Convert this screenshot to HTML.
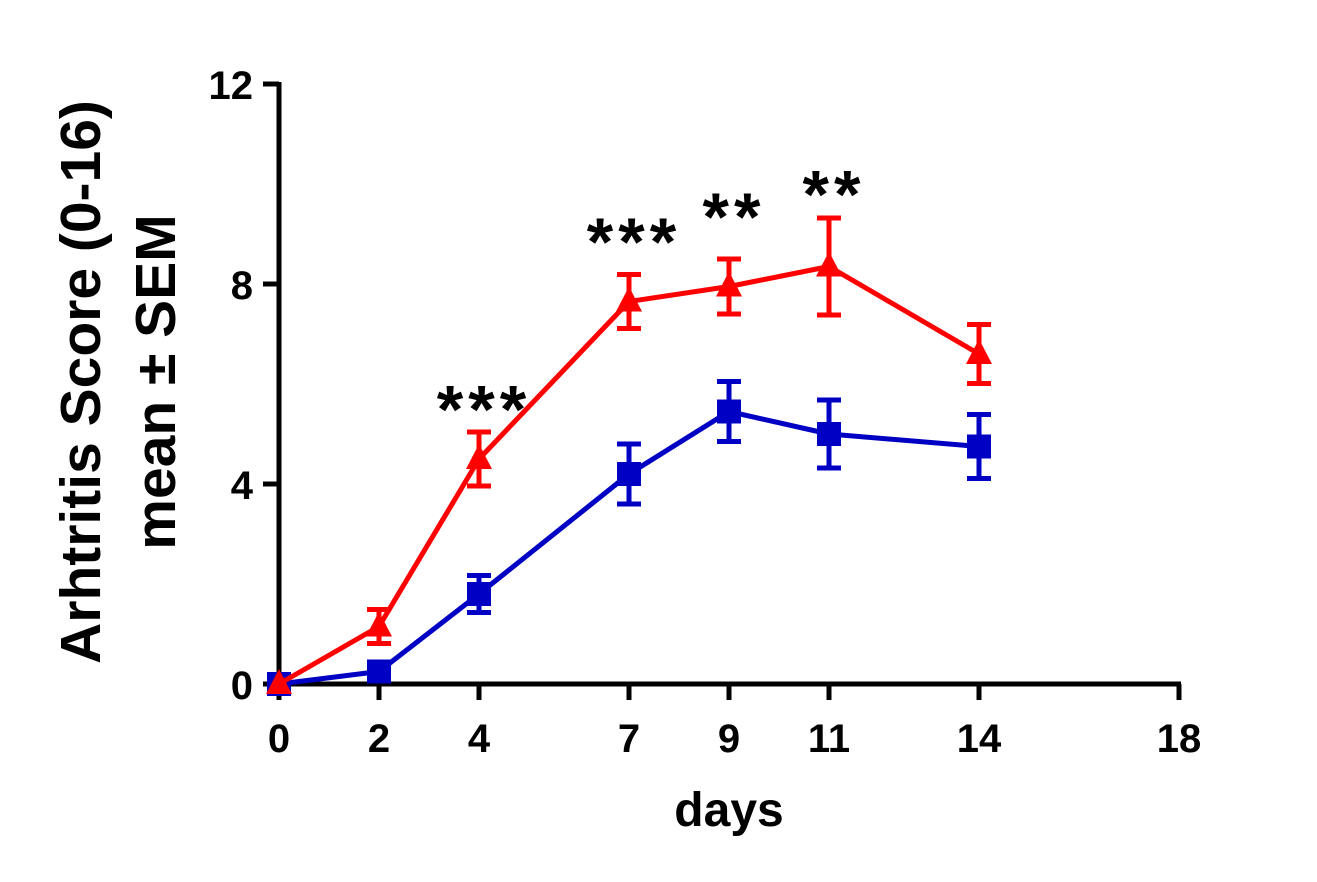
<!DOCTYPE html>
<html><head><meta charset="utf-8"><style>
html,body{margin:0;padding:0;background:#fff;}
svg{display:block;font-family:"Liberation Sans",sans-serif;font-weight:bold;}
</style></head><body>
<svg id="chart" width="1317" height="882" viewBox="0 0 1317 882">
<g id="axes"></g>
<g id="series"></g>
<text transform="translate(100,382) rotate(-90)" text-anchor="middle" font-size="57">Arhtritis Score (0-16)</text>
<text transform="translate(175,382) rotate(-90)" text-anchor="middle" font-size="57">mean ± SEM</text>
<text x="729" y="826" text-anchor="middle" font-size="48">days</text>
</svg>
<script>
const days = [0, 2, 4, 7, 9, 11, 14];
const redMean = [0, 1.15, 4.5, 7.65, 7.95, 8.35, 6.6];
const redSem = [0, 0.34, 0.54, 0.54, 0.55, 0.97, 0.59];
const blueMean = [0, 0.25, 1.8, 4.2, 5.45, 5.0, 4.75];
const blueSem = [0, 0.08, 0.37, 0.6, 0.6, 0.68, 0.64];
const xTicks = [0, 2, 4, 7, 9, 11, 14, 18];
const yTicks = [0, 4, 8, 12];
const sigDays = [4, 7, 9, 11];
const sigLabels = ["***", "***", "**", "**"];
const sigValues = [5.75, 9.1, 9.6, 10.05];

const NS = "http://www.w3.org/2000/svg";
const X = d => 279 + d * 50;
const Y = v => 684 - v * 50;
function mk(tag, attrs, parent) {
  const e = document.createElementNS(NS, tag);
  for (const k in attrs) e.setAttribute(k, attrs[k]);
  parent.appendChild(e);
  return e;
}
const axes = document.getElementById('axes');
const series = document.getElementById('series');
let el;
el = mk('line', {x1: X(0), y1: Y(0), x2: X(18) + 2, y2: Y(0), stroke: '#000', 'stroke-width': 5}, axes);


el = mk('line', {x1: X(0), y1: Y(0) + 2, x2: X(0), y2: Y(12) - 2, stroke: '#000', 'stroke-width': 5}, axes);


xTicks.forEach(t => {
  el = mk('line', {x1: X(t), y1: Y(0), x2: X(t), y2: Y(0) + 16, stroke: '#000', 'stroke-width': 5}, axes);
  
  
  el = mk('text', {x: X(t), y: Y(0) + 68, 'text-anchor': 'middle', 'font-size': 40}, axes);
  el.textContent = t;
  
  
});
yTicks.forEach(t => {
  el = mk('line', {x1: X(0) - 16, y1: Y(t), x2: X(0), y2: Y(t), stroke: '#000', 'stroke-width': 5}, axes);
  
  
  el = mk('text', {x: X(0) - 26, y: Y(t) + 15, 'text-anchor': 'end', 'font-size': 40}, axes);
  el.textContent = t;
  
  
});
function drawSeries(means, sems, color, shape, name) {
  const g = mk('g', {}, series);
  
  
  el = mk('polyline', {points: days.map((d, i) => X(d) + ',' + Y(means[i])).join(' '), fill: 'none', stroke: color, 'stroke-width': 5, 'stroke-linejoin': 'round'}, g);
  
  
  days.forEach((d, i) => {
    const x = X(d), y1 = Y(means[i] + sems[i]), y2 = Y(means[i] - sems[i]);
    if (sems[i] > 0) {
      el = mk('path', {d: `M${x},${y1}V${y2}M${x - 12},${y1}H${x + 12}M${x - 12},${y2}H${x + 12}`, stroke: color, 'stroke-width': 5, fill: 'none'}, g);
      
      
    }
    const y = Y(means[i]);
    if (shape === 'square') {
      el = mk('rect', {x: x - 12, y: y - 12, width: 24, height: 24, fill: color}, g);
    } else {
      el = mk('polygon', {points: `${x},${y - 15} ${x - 13},${y + 10} ${x + 13},${y + 10}`, fill: color}, g);
    }
    
    
  });
}
drawSeries(blueMean, blueSem, '#0000c4', 'square', 'control');
drawSeries(redMean, redSem, '#ff0000', 'triangle', 'treated');
sigDays.forEach((d, i) => {
  el = mk('text', {x: X(d) + 5, y: Y(sigValues[i]) + 36, 'text-anchor': 'middle', 'font-size': 68, 'letter-spacing': 5}, series);
  el.textContent = sigLabels[i];
  
  
});
</script>
</body></html>
